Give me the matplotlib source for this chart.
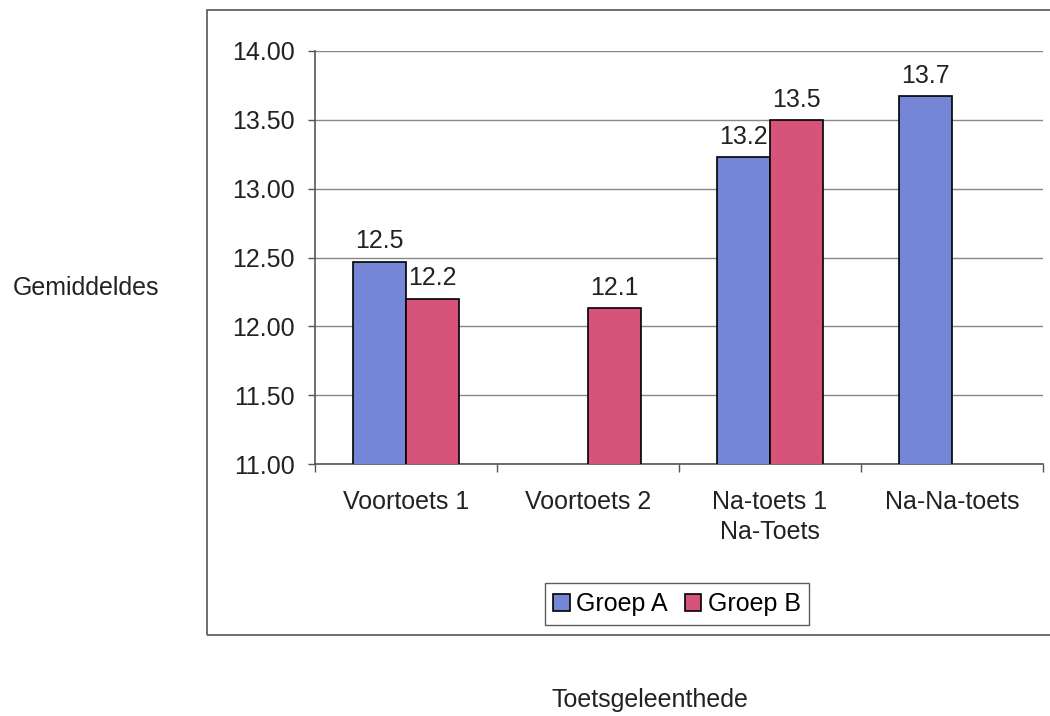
import numpy as np
import matplotlib
matplotlib.use("Agg")
import matplotlib.pyplot as plt
from matplotlib.patches import Rectangle

plt.rcParams['font.family'] = ['Liberation Sans', 'DejaVu Sans']

categories = ["Voortoets 1", "Voortoets 2", "Na-toets 1\nNa-Toets", "Na-Na-toets"]
groep_a = [12.47, np.nan, 13.23, 13.67]
groep_b = [12.20, 12.13, 13.50, np.nan]
series_names = ["Groep A", "Groep B"]
y_ticks = [11.0, 11.5, 12.0, 12.5, 13.0, 13.5, 14.0]

color_a = "#7586d6"
color_b = "#d6547a"
fs = 18

fig = plt.figure(figsize=(10.5, 7.16), dpi=100)
fig.patch.set_facecolor("white")

# outer chart frame
frame = Rectangle((207 / 1050, 1 - 635 / 716), 1.0, (635 - 10) / 716,
                  transform=fig.transFigure, fill=False,
                  edgecolor="#555555", linewidth=1.2, zorder=0)
fig.add_artist(frame)

ax = fig.add_axes([315 / 1050, 1 - 464 / 716, (1043 - 315) / 1050, (464 - 51) / 716])

x = np.arange(len(categories))
w = 0.29
bars_a = ax.bar(x - w / 2, groep_a, w, color=color_a,
                edgecolor="black", linewidth=1.2, label=series_names[0], zorder=3)
bars_b = ax.bar(x + w / 2, groep_b, w, color=color_b,
                edgecolor="black", linewidth=1.2, label=series_names[1], zorder=3)

for bars, vals in ((bars_a, groep_a), (bars_b, groep_b)):
    for b, v in zip(bars, vals):
        if np.isnan(v):
            continue
        ax.annotate(f"{v:.1f}", (b.get_x() + b.get_width() / 2, v),
                    xytext=(0, 6), textcoords="offset points",
                    ha="center", va="bottom", fontsize=fs, color="#222222")

ax.set_ylim(11.0, 14.0)
ax.set_xlim(-0.5, len(categories) - 0.5)
ax.set_yticks(y_ticks)
ax.set_yticklabels([f"{t:.2f}" for t in y_ticks], fontsize=fs, color="#222222")
ax.yaxis.grid(True, color="#888888", linewidth=1.0, zorder=0)
ax.set_axisbelow(True)

ax.set_xticks(x)
ax.set_xticklabels(categories, fontsize=fs, color="#222222", linespacing=1.3)
ax.set_xticks(np.arange(-0.5, len(categories), 1.0), minor=True)
ax.tick_params(axis="x", which="major", length=0, pad=19)
ax.tick_params(axis="x", which="minor", length=6, width=1.0, color="#555555")
ax.tick_params(axis="y", length=5, width=1.0, color="#555555", pad=9.5)

for s in ("top", "right"):
    ax.spines[s].set_visible(False)
for s in ("left", "bottom"):
    ax.spines[s].set_color("#555555")
    ax.spines[s].set_linewidth(1.2)

fig.text(86 / 1050, 1 - 288 / 716, "Gemiddeldes", fontsize=fs,
         ha="center", va="center", color="#222222")
fig.text(650 / 1050, 1 - 700 / 716, "Toetsgeleenthede", fontsize=fs,
         ha="center", va="center", color="#222222")

leg = fig.legend(loc="center", bbox_to_anchor=(677 / 1050, 1 - 604 / 716),
                 ncol=2, fontsize=fs, frameon=True, fancybox=False,
                 handlelength=0.65, handleheight=0.65, handletextpad=0.25,
                 columnspacing=0.7, borderpad=0.35, borderaxespad=0)
leg.get_frame().set_edgecolor("#333333")
leg.get_frame().set_linewidth(1.0)

fig.savefig("out.png", dpi=100, facecolor="white")
